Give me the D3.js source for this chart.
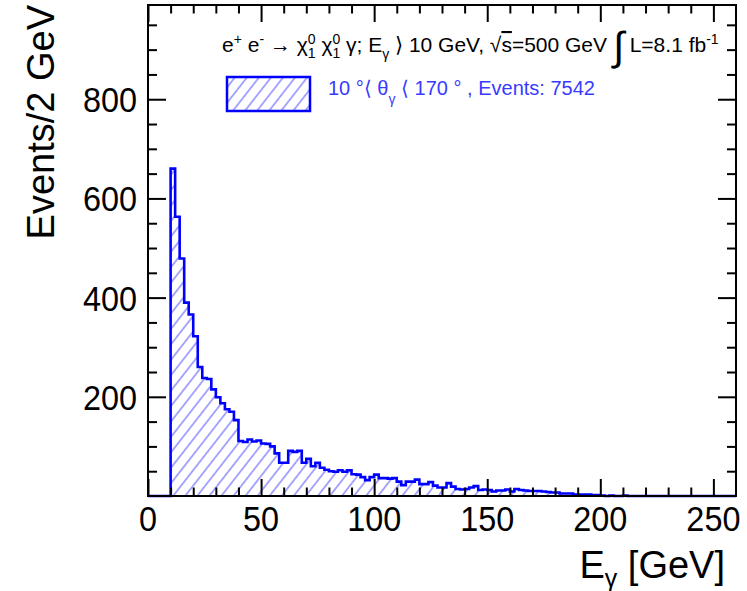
<!DOCTYPE html>
<html><head><meta charset="utf-8">
<script src="https://cdn.jsdelivr.net/npm/d3@7"></script>
<style>body{margin:0;background:#fff} svg{display:block} text{font-family:"Liberation Sans",Arial,sans-serif}</style>
</head><body>
<svg id="c" width="747" height="591"></svg>
<script>
// ---- data ----
const binWidthGeV = 2;
const xDomain = [0, 260];
const yDomain = [0, 990];
const xMajorTicks = [0, 50, 100, 150, 200, 250];
const xMinorTicks = [10,20,30,40,60,70,80,90,110,120,130,140,160,170,180,190,210,220,230,240];
const yMajorTicks = [200, 400, 600, 800];
const yMinorTicks = [50,100,150,250,300,350,450,500,550,650,700,750,850,900,950];
// counts per 2 GeV bin, from 0 GeV to 260 GeV
const counts = [
  0,0,0,0,0,
  660,563,479,390,366,322,260,238,236,215,
  199,187,175,170,153,111,109,114,110,112,
  106,105,100,86,67,67,91,89,91,67,
  75,60,67,57,53,50,49,52,49,52,
  44,43,38,32,38,43,36,36,35,36,
  29,22,29,29,33,24,24,28,21,17,
  17,26,19,14,13,14,17,20,12,13,
  12,9,11,11,13,9,14,12,11,10,
  10,10,9,8,7,7,5,5,5,3,
  3,3,3,2,2,1,0,1,0,0,
  1,0,0,0,0,0,0,0,0,0,
  0,0,0,0,0,0,0,0,0,0
];
const legendLabel = "Events: 7542";

// ---- layout ----
const L = 148, R = 736, T = 5, B = 496;
const svg = d3.select("#c");
const x = d3.scaleLinear().domain(xDomain).range([L, R]);
const y = d3.scaleLinear().domain(yDomain).range([B, T]);
const blue = "#0000ff";
const SX = 0.9;

// hatch pattern
const defs = svg.append("defs");
const pat = defs.append("pattern").attr("id","hatch").attr("patternUnits","userSpaceOnUse")
  .attr("width", 9.5).attr("height", 9.5).attr("patternTransform","rotate(38)");
pat.append("line").attr("x1",4.75).attr("y1",0).attr("x2",4.75).attr("y2",9.5)
  .attr("stroke","#3a3aff").attr("stroke-width",1.1).attr("stroke-opacity",0.8);

// histogram
const pts = [[xDomain[0], 0]];
counts.forEach((c, i) => {
  const lo = xDomain[0] + i * binWidthGeV;
  pts.push([lo, c], [lo + binWidthGeV, c]);
});
pts.push([xDomain[1], 0]);
const line = d3.line().x(d => x(d[0])).y(d => y(d[1]));
svg.append("path").attr("d", line(pts) + "Z").attr("fill","url(#hatch)").attr("stroke","none");
svg.append("path").attr("d", line(pts)).attr("fill","none").attr("stroke",blue)
  .attr("stroke-width",2.6).attr("stroke-linejoin","miter");

// ticks
function ticks(axisGen, vals, size, tr){
  const g = svg.append("g").attr("transform", tr)
    .call(axisGen.tickValues(vals).tickSize(size).tickFormat(""));
  g.select(".domain").remove();
  g.selectAll(".tick line").attr("stroke","#000").attr("stroke-width",2);
}
ticks(d3.axisBottom(x), xMajorTicks, -17, `translate(0,${B})`);
ticks(d3.axisBottom(x), xMinorTicks, -8.5, `translate(0,${B})`);
ticks(d3.axisTop(x), xMajorTicks, -17, `translate(0,${T})`);
ticks(d3.axisTop(x), xMinorTicks, -8.5, `translate(0,${T})`);
ticks(d3.axisLeft(y), yMajorTicks, -18, `translate(${L},0)`);
ticks(d3.axisLeft(y), yMinorTicks, -9, `translate(${L},0)`);
ticks(d3.axisRight(y), yMajorTicks, -18, `translate(${R},0)`);
ticks(d3.axisRight(y), yMinorTicks, -9, `translate(${R},0)`);

// frame
svg.append("rect").attr("x",L).attr("y",T).attr("width",R-L).attr("height",B-T)
  .attr("fill","none").attr("stroke","#000").attr("stroke-width",2);

function stext(px, py, anchor, size, fill, sx){
  const g = svg.append("g").attr("transform",`translate(${px},${py}) scale(${sx||SX},1)`);
  return g.append("text").attr("text-anchor",anchor).attr("font-size",size).attr("fill",fill||"#000");
}
// tick labels
xMajorTicks.forEach(v => stext(x(v), 531, "middle", 36).text(v));
yMajorTicks.forEach(v => stext(137, y(v), "end", 36).attr("dy","0.36em").text(v));

// axis titles
const xt = stext(725, 578, "end", 38, "#000", 1);
xt.append("tspan").text("E");
xt.append("tspan").attr("font-size",25).attr("dy",9).text("γ");
xt.append("tspan").attr("dy",-9).text(" [GeV]");
svg.append("text").attr("transform","translate(54,5) rotate(-90)").attr("text-anchor","end")
  .attr("font-size",38).text("Events/2 GeV");

// header
const h = stext(222, 52, "start", 21, "#000", 1);
h.append("tspan").text("e");
h.append("tspan").attr("font-size",14).attr("dy",-8).text("+");
h.append("tspan").attr("dy",8).text(" e");
h.append("tspan").attr("font-size",14).attr("dy",-8).text("-");
h.append("tspan").attr("dy",8).text(" → χ");
h.append("tspan").attr("font-size",14).attr("dy",-8).text("0");
h.append("tspan").attr("font-size",14).attr("dx",-7.8).attr("dy",14).text("1");
h.append("tspan").attr("dy",-6).text(" χ");
h.append("tspan").attr("font-size",14).attr("dy",-8).text("0");
h.append("tspan").attr("font-size",14).attr("dx",-7.8).attr("dy",14).text("1");
h.append("tspan").attr("dy",-6).text(" γ; E");
h.append("tspan").attr("font-size",14).attr("dy",7).text("γ");
h.append("tspan").attr("dy",-7).text(" ⟩ 10 GeV, √");
h.append("tspan").attr("text-decoration","overline").text("s");
h.append("tspan").text("=500 GeV ");
h.append("tspan").attr("font-size",40).attr("dy",8).text("∫");
h.append("tspan").attr("dy",-8).text(" L=8.1 fb");
h.append("tspan").attr("font-size",14).attr("dy",-8).text("-1");

// legend
svg.append("rect").attr("x",227).attr("y",77).attr("width",83).attr("height",34)
  .attr("fill","url(#hatch)").attr("stroke",blue).attr("stroke-width",2.5);
const lg = stext(328, 95, "start", 20, "#3a3aff", 1);
lg.append("tspan").text("10 °⟨ θ");
lg.append("tspan").attr("font-size",14).attr("dy",9).text("γ");
lg.append("tspan").attr("dy",-9).text(" ⟨ 170 °  , " + legendLabel);
</script>
</body></html>
